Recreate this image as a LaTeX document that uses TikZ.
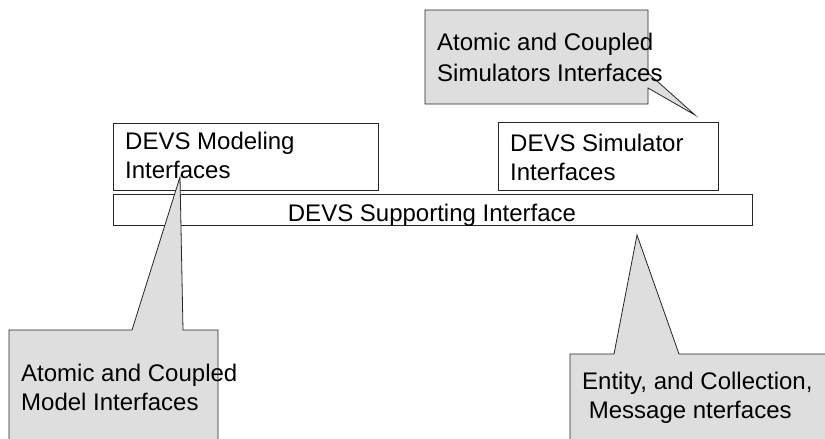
\documentclass[tikz,border=0pt]{standalone}
\usepackage{fontspec}
\setmainfont{Liberation Sans}
\begin{document}
\begin{tikzpicture}[x=1pt,y=-1pt,
  box/.style={draw=black!85,line width=0.8pt,fill=white},
  callout/.style={draw=black!85,line width=0.8pt,fill=black!13,line join=miter},
  label/.style={anchor=base west,inner sep=0pt,font=\fontsize{24}{29}\selectfont,align=left}]
\useasboundingbox (0,0) rectangle (825,439);
\fill[white] (0,0) rectangle (825,439);

% interface layers
\draw[box] (113,123) rectangle (378,190);
\coordinate (modelingNW) at (113,123);
\draw[box] (498,122) rectangle (718,190);
\coordinate (simulatorNW) at (498,122);
\draw[box] (113,194) rectangle (752,225);
\coordinate (supportC) at (432.5,209.5);

% callouts
\draw[callout] (425,10) -- (648,10) -- (648,73) -- (695,115) -- (648,88)
  -- (648,104) -- (425,104) -- cycle;
\draw[callout] (9,330) -- (132,330) -- (180,177) -- (183,330) -- (218,330)
  -- (218,450) -- (9,450) -- cycle;
\draw[callout] (570,354) -- (614,354) -- (637,235) -- (679,354) -- (835,354)
  -- (835,450) -- (570,450) -- cycle;

% texts (base anchor sits on the last line's baseline)
\node[label] (modeling) at (125,178) {DEVS Modeling\\Interfaces};
\node[label] (simulator) at (510,180) {DEVS Simulator\\Interfaces};
\node[label,anchor=base] (support) at (432,221) {DEVS Supporting Interface};
\node[label] (simnote) at (437,81) {Atomic and Coupled\\[2pt]Simulators Interfaces};
\node[label] (modelnote) at (21,410) {Atomic and Coupled\\Model Interfaces};
\node[label] (entitynote) at (582,418) {Entity, and Collection,\\\ Message nterfaces};
\end{tikzpicture}
\end{document}
